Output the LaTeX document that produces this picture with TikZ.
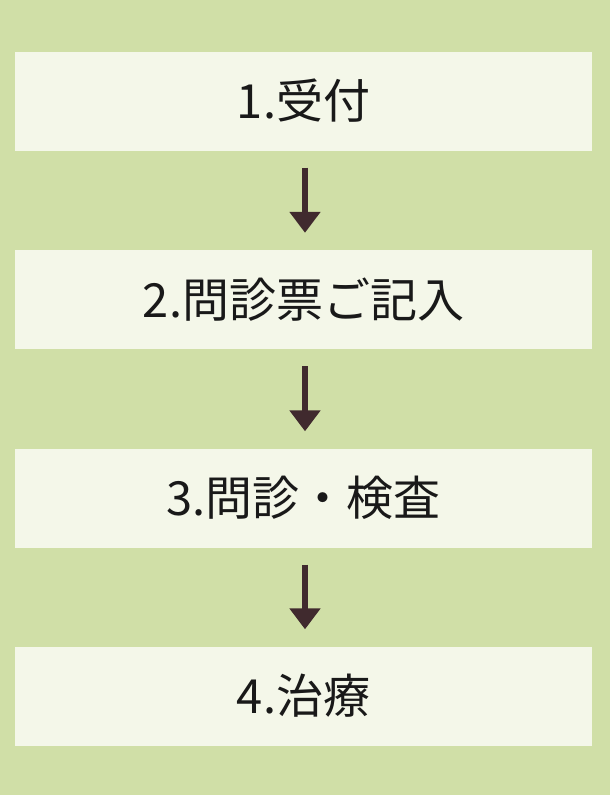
\documentclass[tikz,border=0pt]{standalone}
\usepackage{fontspec}
\usepackage{tikz}
\usetikzlibrary{arrows.meta,positioning}
\newfontfamily\jpfont{Noto Sans CJK JP}
\definecolor{flowBack}{RGB}{208,223,167}
\definecolor{flowBox}{RGB}{244,247,233}
\definecolor{flowArrow}{RGB}{64,42,46}

\tikzset{
    stepbox/.style={fill=flowBox, draw=none, minimum width=577pt, minimum height=99pt,
        inner sep=0pt, font=\jpfont\fontsize{47}{56}\selectfont, text=black!90},
    steparrow/.style={draw=flowArrow, line width=5.5pt,
        -{Triangle[width=30pt,length=21pt]}, color=flowArrow}
}

\begin{document}
\begin{tikzpicture}[x=1pt,y=-1pt]
    % Background
    \fill[flowBack] (0,0) rectangle (610,795);
    \useasboundingbox (0,0) rectangle (610,795);

    % Steps
    \node[stepbox] (s1) at (303.5,101) {1.受付};
    \node[stepbox] (s2) at (303.5,299.5) {2.問診票ご記入};
    \node[stepbox] (s3) at (303.5,498) {3.問診・検査};
    \node[stepbox] (s4) at (303.5,696) {4.治療};

    % Arrows
    \foreach \a/\b in {s1/s2, s2/s3, s3/s4} {
        \draw[steparrow] ([xshift=1.5pt,yshift=-17pt]\a.south) -- ([xshift=1.5pt,yshift=17pt]\b.north);
    }
\end{tikzpicture}
\end{document}
